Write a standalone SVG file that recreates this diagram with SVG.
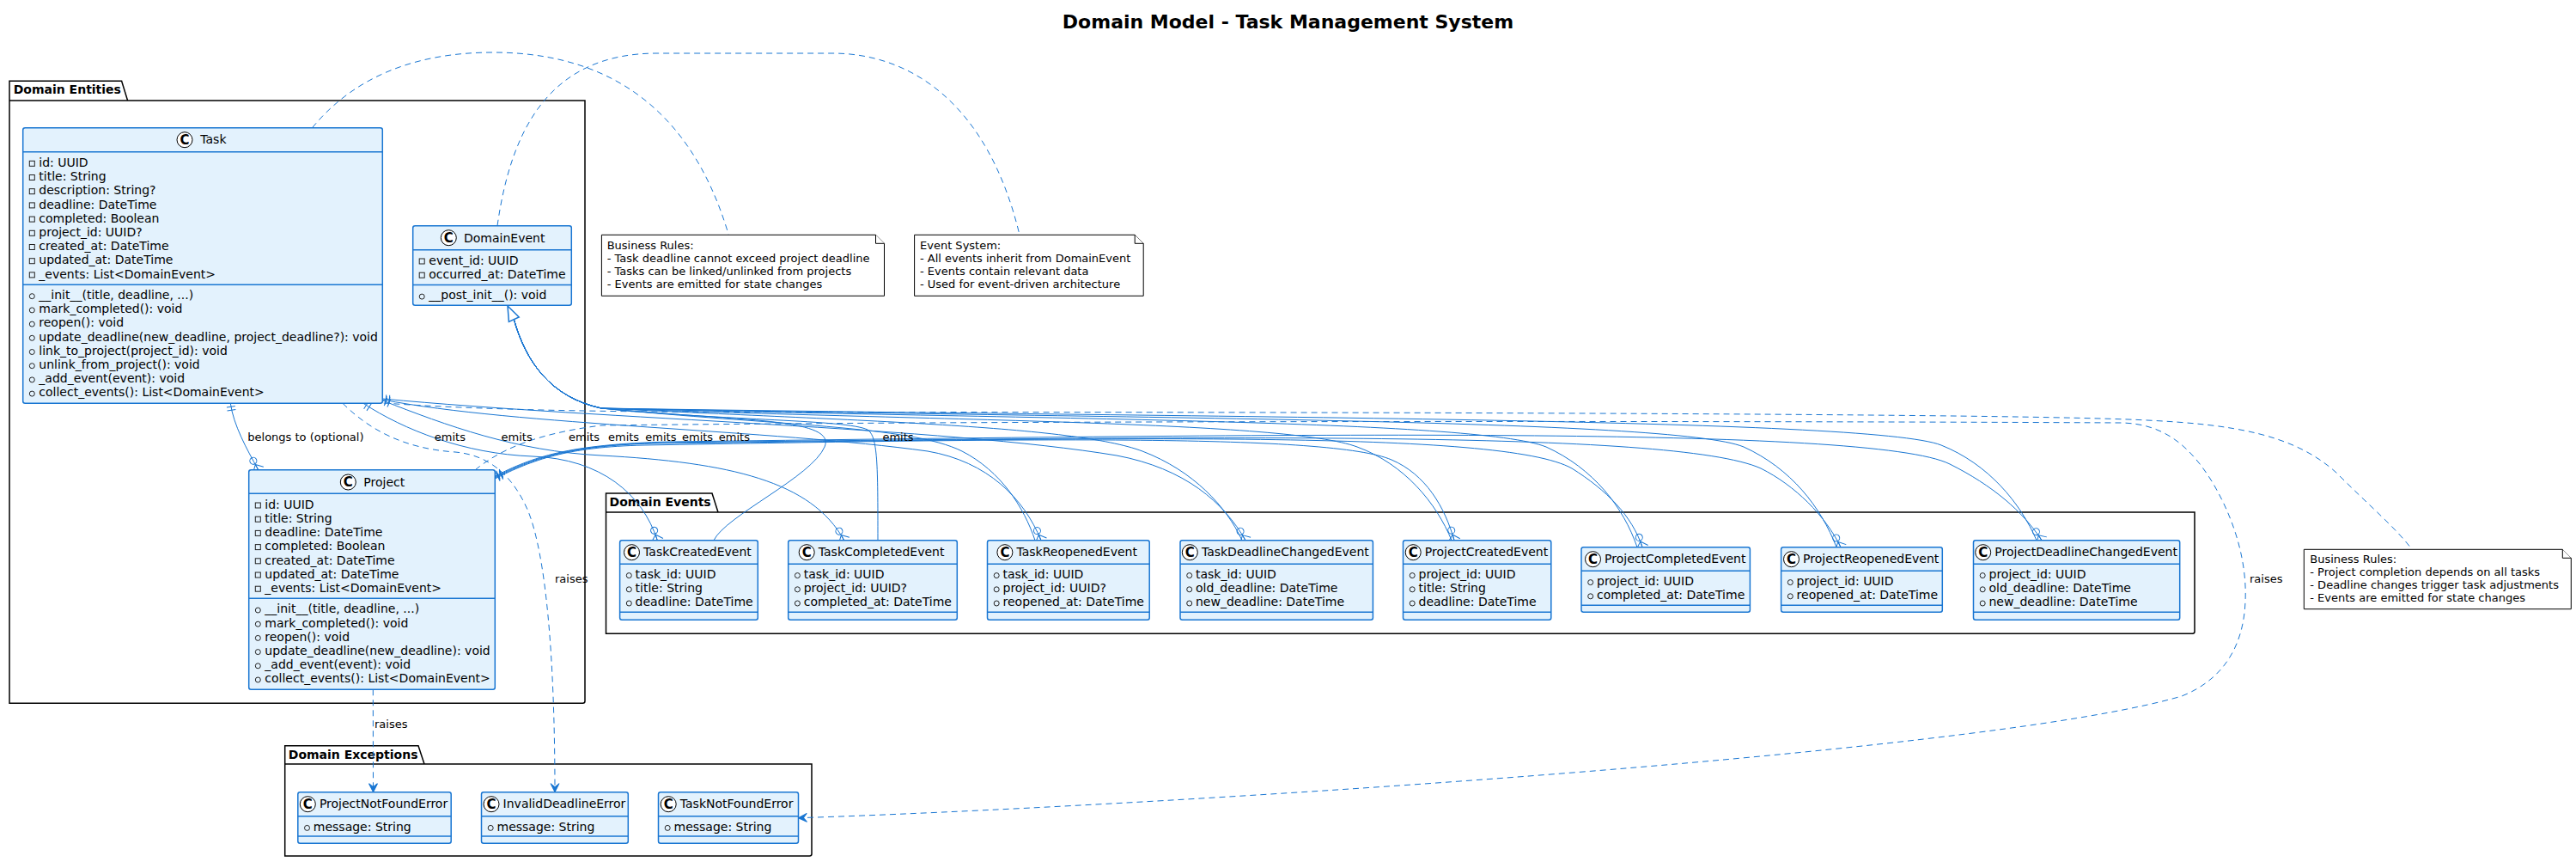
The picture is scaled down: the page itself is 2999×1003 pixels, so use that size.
<svg xmlns="http://www.w3.org/2000/svg" width="2999" height="1003" viewBox="0 0 2999 1003">
<defs>
<style>
text{font-family:"DejaVu Sans","Liberation Sans",sans-serif;fill:#000}
.cls{fill:#E3F2FD;stroke:#1976D2;stroke-width:1.5}
.sep{stroke:#1976D2;stroke-width:1.5;fill:none}
.nm{font-size:14px}
.mb{font-size:14px}
.ci{fill:#FFFFFF;stroke:#000;stroke-width:1}
.cl{font-size:15px;font-weight:bold;text-anchor:middle}
.pv{fill:none;stroke:#222;stroke-width:1}
.pkg{fill:none;stroke:#000;stroke-width:1.5}
.pkt{font-size:14px;font-weight:bold}
.note{fill:#FFFFFF;stroke:#000;stroke-width:1}
.nt{font-size:13px}
.ln{fill:none;stroke:#1976D2;stroke-width:1}
.dl{fill:none;stroke:#1976D2;stroke-width:1;stroke-dasharray:7,5}
.lb{font-size:13px}
.title{font-size:22px;font-weight:bold;text-anchor:middle}
</style>
<marker id="one" markerUnits="userSpaceOnUse" markerWidth="20" markerHeight="20" viewBox="-10 -10 20 20" refX="0" refY="0" orient="auto">
<path d="M4,-5 L4,5 M8,-5 L8,5" stroke="#1976D2" stroke-width="1" fill="none"/>
</marker>
<marker id="many" markerUnits="userSpaceOnUse" markerWidth="30" markerHeight="20" viewBox="-25 -10 30 20" refX="0" refY="0" orient="auto">
<circle cx="-12" cy="0" r="4" fill="none" stroke="#1976D2" stroke-width="1"/>
<path d="M-7,0 L0,-7 M-7,0 L0,0 M-7,0 L0,7" stroke="#1976D2" stroke-width="1" fill="none"/>
</marker>
<marker id="arr" markerUnits="userSpaceOnUse" markerWidth="20" markerHeight="20" viewBox="-15 -10 20 20" refX="0" refY="0" orient="auto">
<path d="M0,0 L-10,-5 L-6,0 L-10,5 Z" fill="#1976D2" stroke="#1976D2" stroke-width="1"/>
</marker>
</defs>
<rect x="0" y="0" width="2999" height="1003" fill="#FFFFFF"/>

<text class="title" x="1499.5" y="33">Domain Model - Task Management System</text>

<g id="pkg-entities">
<path class="pkg" d="M11,94.3 L141.6,94.3 L148.6,117 L681,117 L681,815.8 Q681,818.3 678.5,818.3 L11,818.3 Z M11,117 L148.6,117"/>
<text class="pkt" x="15.7" y="108.5">Domain Entities</text>
</g>
<g id="pkg-events">
<path class="pkg" d="M705.5,574 L829,574 L836,596 L2555,596 L2555,734.8 Q2555,737.3 2552.5,737.3 L705.5,737.3 Z M705.5,596 L836,596"/>
<text class="pkt" x="709.6" y="588.5">Domain Events</text>
</g>
<g id="pkg-exceptions">
<path class="pkg" d="M331.7,867.7 L487,867.7 L494,889 L945,889 L945,993.5 Q945,996 942.5,996 L331.7,996 Z M331.7,889 L494,889"/>
<text class="pkt" x="335.8" y="882.5">Domain Exceptions</text>
</g>

<g id="connectors">
<!-- notes -->
<path class="dl" d="M363.5,148.7 C420,80 500,61 574,61 C690,61 800,110 848.3,273.3"/>
<path class="dl" d="M579,262.7 C595,150 640,62 765,62 L969,62 C1060,62 1150,120 1187,273.3"/>
<path class="dl" d="M446.7,469 C560,477 700,479.5 900,479.5 C1600,479.5 2350,481 2500,489 C2600,494 2670,505 2720,550 C2760,590 2790,615 2808,639.3"/>
<!-- belongs to -->
<path class="ln" d="M268.3,469.3 C272,495 287,522 300.7,546.7" marker-start="url(#one)" marker-end="url(#many)"/>
<!-- task emits -->
<path class="ln" d="M423,469.3 C470,500 540,528 620,531 C700,534 748,575 765.3,628.7" marker-start="url(#one)" marker-end="url(#many)"/>
<path class="ln" d="M445.3,466 C520,495 600,525 700,530 C850,538 945,560 982.7,628.7" marker-start="url(#one)" marker-end="url(#many)"/>
<path class="ln" d="M445.3,465 C600,495 900,500 1080,525 C1150,537 1192,580 1212,628.7" marker-start="url(#one)" marker-end="url(#many)"/>
<path class="ln" d="M445.3,464 C700,488 1100,497 1300,530 C1380,545 1425,585 1450,628.7" marker-start="url(#one)" marker-end="url(#many)"/>
<!-- project emits -->
<path class="ln" d="M576.3,557 C620,535 660,520 750,518 C1200,510 1550,505 1620,535 C1660,552 1682,590 1693,628.7" marker-start="url(#one)" marker-end="url(#many)"/>
<path class="ln" d="M576.3,556 C620,534 660,519 760,516 C1300,510 1750,500 1830,545 C1870,570 1900,600 1912,636.7" marker-start="url(#one)" marker-end="url(#many)"/>
<path class="ln" d="M576.3,555 C620,533 660,518 770,515 C1400,508 1950,500 2050,545 C2090,565 2125,600 2143,636.7" marker-start="url(#one)" marker-end="url(#many)"/>
<path class="ln" d="M576.3,554 C620,532 660,517 780,514 C1500,505 2180,495 2270,540 C2320,565 2355,595 2377,628.7" marker-start="url(#one)" marker-end="url(#many)"/>
<!-- inheritance -->
<path class="ln" d="M598.3,371.7 C612,420 640,462 700,475 C850,490 975,485 960,520 C945,555 845,600 831,628.7"/>
<path class="ln" d="M598.3,371.7 C612,420 640,462 700,475 C850,490 985,488 1010,500 C1022,508 1022,540 1022,628.7"/>
<path class="ln" d="M598.3,371.7 C612,420 640,462 700,475 C900,495 1060,495 1120,525 C1165,548 1192,590 1205,628.7"/>
<path class="ln" d="M598.3,371.7 C612,420 640,462 700,475 C1000,490 1250,495 1330,525 C1390,548 1428,590 1446,628.7"/>
<path class="ln" d="M598.3,371.7 C612,420 640,462 700,475 C1100,490 1500,490 1580,520 C1635,540 1672,585 1690,628.7"/>
<path class="ln" d="M598.3,371.7 C612,420 640,462 700,475 C1200,488 1720,488 1800,520 C1855,545 1890,590 1906,636.7"/>
<path class="ln" d="M598.3,371.7 C612,420 640,462 700,475 C1300,487 1950,487 2030,520 C2085,545 2120,590 2138,636.7"/>
<path class="ln" d="M598.3,371.7 C612,420 640,462 700,475 C1400,486 2180,486 2260,518 C2315,540 2352,585 2371,628.7"/>
<polygon points="591,356 604.2,369 592.4,374.4" fill="#FFFFFF" stroke="#1976D2" stroke-width="1.5"/>
<!-- raises -->
<path class="dl" d="M434.3,802.3 L434.5,921.7" marker-end="url(#arr)"/>
<path class="dl" d="M399,469.3 C430,500 470,522 530,526 C575,530 600,560 615,595 C635,645 646,760 646,921.7" marker-end="url(#arr)"/>
<path class="dl" d="M553.3,546.7 C580,525 620,505 700,495 C1200,489 2100,490 2470,492 C2520,493 2550,520 2575,560 C2605,610 2616,660 2614,700 C2612,750 2590,790 2540,810 C2300,880 1300,940 929.4,951.7" marker-end="url(#arr)"/>
<!-- labels -->
<text class="lb" x="288.3" y="512.8">belongs to (optional)</text>
<text class="lb" x="505.8" y="512.8">emits</text>
<text class="lb" x="583.6" y="512.8">emits</text>
<text class="lb" x="662" y="512.8">emits</text>
<text class="lb" x="708" y="512.8">emits</text>
<text class="lb" x="751.3" y="512.8">emits</text>
<text class="lb" x="794" y="512.8">emits</text>
<text class="lb" x="836.8" y="512.8">emits</text>
<text class="lb" x="1027.4" y="512.8">emits</text>
<text class="lb" x="436" y="847">raises</text>
<text class="lb" x="646" y="678.3">raises</text>
<text class="lb" x="2619" y="678.3">raises</text>
</g>

<g id="Task">
<rect class="cls" x="26.7" y="148.7" width="418.6" height="320.6" rx="2.5"/>
<line class="sep" x1="26.7" y1="176.7" x2="445.3" y2="176.7"/>
<line class="sep" x1="26.7" y1="331.3" x2="445.3" y2="331.3"/>
<circle class="ci" cx="215" cy="162.7" r="9"/><text class="cl" x="215" y="168">C</text>
<text class="nm" x="233.3" y="167.3">Task</text>
<rect class="pv" x="34.3" y="187.3" width="6" height="6"/><text class="mb" x="45.3" y="194">id: UUID</text>
<rect class="pv" x="34.3" y="203.5" width="6" height="6"/><text class="mb" x="45.3" y="210.2">title: String</text>
<rect class="pv" x="34.3" y="219.7" width="6" height="6"/><text class="mb" x="45.3" y="226.4">description: String?</text>
<rect class="pv" x="34.3" y="235.9" width="6" height="6"/><text class="mb" x="45.3" y="242.6">deadline: DateTime</text>
<rect class="pv" x="34.3" y="252.1" width="6" height="6"/><text class="mb" x="45.3" y="258.8">completed: Boolean</text>
<rect class="pv" x="34.3" y="268.3" width="6" height="6"/><text class="mb" x="45.3" y="275">project_id: UUID?</text>
<rect class="pv" x="34.3" y="284.5" width="6" height="6"/><text class="mb" x="45.3" y="291.2">created_at: DateTime</text>
<rect class="pv" x="34.3" y="300.7" width="6" height="6"/><text class="mb" x="45.3" y="307.4">updated_at: DateTime</text>
<rect class="pv" x="34.3" y="316.9" width="6" height="6"/><text class="mb" x="45.3" y="323.6">_events: List&lt;DomainEvent&gt;</text>
<circle class="pv" cx="37.3" cy="344.7" r="3"/><text class="mb" x="45.3" y="348">__init__(title, deadline, ...)</text>
<circle class="pv" cx="37.3" cy="360.9" r="3"/><text class="mb" x="45.3" y="364.2">mark_completed(): void</text>
<circle class="pv" cx="37.3" cy="377.1" r="3"/><text class="mb" x="45.3" y="380.4">reopen(): void</text>
<circle class="pv" cx="37.3" cy="393.3" r="3"/><text class="mb" x="45.3" y="396.6">update_deadline(new_deadline, project_deadline?): void</text>
<circle class="pv" cx="37.3" cy="409.5" r="3"/><text class="mb" x="45.3" y="412.8">link_to_project(project_id): void</text>
<circle class="pv" cx="37.3" cy="425.7" r="3"/><text class="mb" x="45.3" y="429">unlink_from_project(): void</text>
<circle class="pv" cx="37.3" cy="441.9" r="3"/><text class="mb" x="45.3" y="445.2">_add_event(event): void</text>
<circle class="pv" cx="37.3" cy="458.1" r="3"/><text class="mb" x="45.3" y="461.4">collect_events(): List&lt;DomainEvent&gt;</text>
</g>

<g id="DomainEvent">
<rect class="cls" x="480.7" y="262.7" width="184.6" height="92.6" rx="2.5"/>
<line class="sep" x1="480.7" y1="290.7" x2="665.3" y2="290.7"/>
<line class="sep" x1="480.7" y1="331.5" x2="665.3" y2="331.5"/>
<circle class="ci" cx="522.3" cy="276.7" r="9"/><text class="cl" x="522.3" y="282">C</text>
<text class="nm" x="540" y="281.7">DomainEvent</text>
<rect class="pv" x="488.2" y="301" width="6" height="6"/><text class="mb" x="499.3" y="307.7">event_id: UUID</text>
<rect class="pv" x="488.2" y="317.2" width="6" height="6"/><text class="mb" x="499.3" y="323.9">occurred_at: DateTime</text>
<circle class="pv" cx="491.2" cy="345.1" r="3"/><text class="mb" x="499.3" y="348.4">__post_init__(): void</text>
</g>

<g id="Project">
<rect class="cls" x="289.7" y="546.7" width="286.6" height="255.6" rx="2.5"/>
<line class="sep" x1="289.7" y1="574.3" x2="576.3" y2="574.3"/>
<line class="sep" x1="289.7" y1="696.3" x2="576.3" y2="696.3"/>
<circle class="ci" cx="405.3" cy="561" r="9"/><text class="cl" x="405.3" y="566.3">C</text>
<text class="nm" x="423.3" y="566">Project</text>
<rect class="pv" x="297.3" y="585" width="6" height="6"/><text class="mb" x="308.3" y="591.7">id: UUID</text>
<rect class="pv" x="297.3" y="601.2" width="6" height="6"/><text class="mb" x="308.3" y="607.9">title: String</text>
<rect class="pv" x="297.3" y="617.4" width="6" height="6"/><text class="mb" x="308.3" y="624.1">deadline: DateTime</text>
<rect class="pv" x="297.3" y="633.6" width="6" height="6"/><text class="mb" x="308.3" y="640.3">completed: Boolean</text>
<rect class="pv" x="297.3" y="649.8" width="6" height="6"/><text class="mb" x="308.3" y="656.5">created_at: DateTime</text>
<rect class="pv" x="297.3" y="666" width="6" height="6"/><text class="mb" x="308.3" y="672.7">updated_at: DateTime</text>
<rect class="pv" x="297.3" y="682.2" width="6" height="6"/><text class="mb" x="308.3" y="688.9">_events: List&lt;DomainEvent&gt;</text>
<circle class="pv" cx="300.3" cy="710" r="3"/><text class="mb" x="308.3" y="713.3">__init__(title, deadline, ...)</text>
<circle class="pv" cx="300.3" cy="726.2" r="3"/><text class="mb" x="308.3" y="729.5">mark_completed(): void</text>
<circle class="pv" cx="300.3" cy="742.4" r="3"/><text class="mb" x="308.3" y="745.7">reopen(): void</text>
<circle class="pv" cx="300.3" cy="758.6" r="3"/><text class="mb" x="308.3" y="761.9">update_deadline(new_deadline): void</text>
<circle class="pv" cx="300.3" cy="774.8" r="3"/><text class="mb" x="308.3" y="778.1">_add_event(event): void</text>
<circle class="pv" cx="300.3" cy="791" r="3"/><text class="mb" x="308.3" y="794.3">collect_events(): List&lt;DomainEvent&gt;</text>
</g>

<g id="TaskCreatedEvent">
<rect class="cls" x="721.6" y="628.7" width="160.7" height="92.6" rx="2.5"/>
<line class="sep" x1="721.6" y1="656.3" x2="882.3" y2="656.3"/>
<line class="sep" x1="721.6" y1="712.3" x2="882.3" y2="712.3"/>
<circle class="ci" cx="735.5" cy="642.7" r="9"/><text class="cl" x="735.5" y="648">C</text>
<text class="nm" x="749.1" y="646.7">TaskCreatedEvent</text>
<circle class="pv" cx="732.3" cy="669.6" r="3"/><text class="mb" x="739.6" y="672.9">task_id: UUID</text>
<circle class="pv" cx="732.3" cy="685.8" r="3"/><text class="mb" x="739.6" y="689.1">title: String</text>
<circle class="pv" cx="732.3" cy="702" r="3"/><text class="mb" x="739.6" y="705.3">deadline: DateTime</text>
</g>

<g id="TaskCompletedEvent">
<rect class="cls" x="917.7" y="628.7" width="196.6" height="92.6" rx="2.5"/>
<line class="sep" x1="917.7" y1="656.3" x2="1114.3" y2="656.3"/>
<line class="sep" x1="917.7" y1="712.3" x2="1114.3" y2="712.3"/>
<circle class="ci" cx="939.2" cy="642.7" r="9"/><text class="cl" x="939.2" y="648">C</text>
<text class="nm" x="952.8" y="646.7">TaskCompletedEvent</text>
<circle class="pv" cx="928.4" cy="669.6" r="3"/><text class="mb" x="935.7" y="672.9">task_id: UUID</text>
<circle class="pv" cx="928.4" cy="685.8" r="3"/><text class="mb" x="935.7" y="689.1">project_id: UUID?</text>
<circle class="pv" cx="928.4" cy="702" r="3"/><text class="mb" x="935.7" y="705.3">completed_at: DateTime</text>
</g>

<g id="TaskReopenedEvent">
<rect class="cls" x="1149.5" y="628.7" width="188.7" height="92.6" rx="2.5"/>
<line class="sep" x1="1149.5" y1="656.3" x2="1338.2" y2="656.3"/>
<line class="sep" x1="1149.5" y1="712.3" x2="1338.2" y2="712.3"/>
<circle class="ci" cx="1169.9" cy="642.7" r="9"/><text class="cl" x="1169.9" y="648">C</text>
<text class="nm" x="1183.5" y="646.7">TaskReopenedEvent</text>
<circle class="pv" cx="1160.2" cy="669.6" r="3"/><text class="mb" x="1167.5" y="672.9">task_id: UUID</text>
<circle class="pv" cx="1160.2" cy="685.8" r="3"/><text class="mb" x="1167.5" y="689.1">project_id: UUID?</text>
<circle class="pv" cx="1160.2" cy="702" r="3"/><text class="mb" x="1167.5" y="705.3">reopened_at: DateTime</text>
</g>

<g id="TaskDeadlineChangedEvent">
<rect class="cls" x="1374" y="628.7" width="224.4" height="92.6" rx="2.5"/>
<line class="sep" x1="1374" y1="656.3" x2="1598.4" y2="656.3"/>
<line class="sep" x1="1374" y1="712.3" x2="1598.4" y2="712.3"/>
<circle class="ci" cx="1385.3" cy="642.7" r="9"/><text class="cl" x="1385.3" y="648">C</text>
<text class="nm" x="1398.9" y="646.7">TaskDeadlineChangedEvent</text>
<circle class="pv" cx="1384.7" cy="669.6" r="3"/><text class="mb" x="1392" y="672.9">task_id: UUID</text>
<circle class="pv" cx="1384.7" cy="685.8" r="3"/><text class="mb" x="1392" y="689.1">old_deadline: DateTime</text>
<circle class="pv" cx="1384.7" cy="702" r="3"/><text class="mb" x="1392" y="705.3">new_deadline: DateTime</text>
</g>

<g id="ProjectCreatedEvent">
<rect class="cls" x="1633.5" y="628.7" width="172.3" height="92.6" rx="2.5"/>
<line class="sep" x1="1633.5" y1="656.3" x2="1805.8" y2="656.3"/>
<line class="sep" x1="1633.5" y1="712.3" x2="1805.8" y2="712.3"/>
<circle class="ci" cx="1645.2" cy="642.7" r="9"/><text class="cl" x="1645.2" y="648">C</text>
<text class="nm" x="1658.8" y="646.7">ProjectCreatedEvent</text>
<circle class="pv" cx="1644.2" cy="669.6" r="3"/><text class="mb" x="1651.5" y="672.9">project_id: UUID</text>
<circle class="pv" cx="1644.2" cy="685.8" r="3"/><text class="mb" x="1651.5" y="689.1">title: String</text>
<circle class="pv" cx="1644.2" cy="702" r="3"/><text class="mb" x="1651.5" y="705.3">deadline: DateTime</text>
</g>

<g id="ProjectCompletedEvent">
<rect class="cls" x="1841" y="636.7" width="196.4" height="75.6" rx="2.5"/>
<line class="sep" x1="1841" y1="664.3" x2="2037.4" y2="664.3"/>
<line class="sep" x1="1841" y1="704.3" x2="2037.4" y2="704.3"/>
<circle class="ci" cx="1854.5" cy="650.7" r="9"/><text class="cl" x="1854.5" y="656">C</text>
<text class="nm" x="1868.1" y="654.7">ProjectCompletedEvent</text>
<circle class="pv" cx="1851.7" cy="677.6" r="3"/><text class="mb" x="1859" y="680.9">project_id: UUID</text>
<circle class="pv" cx="1851.7" cy="693.8" r="3"/><text class="mb" x="1859" y="697.1">completed_at: DateTime</text>
</g>

<g id="ProjectReopenedEvent">
<rect class="cls" x="2073.6" y="636.7" width="187.7" height="75.6" rx="2.5"/>
<line class="sep" x1="2073.6" y1="664.3" x2="2261.3" y2="664.3"/>
<line class="sep" x1="2073.6" y1="704.3" x2="2261.3" y2="704.3"/>
<circle class="ci" cx="2085.5" cy="650.7" r="9"/><text class="cl" x="2085.5" y="656">C</text>
<text class="nm" x="2099.1" y="654.7">ProjectReopenedEvent</text>
<circle class="pv" cx="2084.3" cy="677.6" r="3"/><text class="mb" x="2091.6" y="680.9">project_id: UUID</text>
<circle class="pv" cx="2084.3" cy="693.8" r="3"/><text class="mb" x="2091.6" y="697.1">reopened_at: DateTime</text>
</g>

<g id="ProjectDeadlineChangedEvent">
<rect class="cls" x="2297.5" y="628.7" width="240.2" height="92.6" rx="2.5"/>
<line class="sep" x1="2297.5" y1="656.3" x2="2537.7" y2="656.3"/>
<line class="sep" x1="2297.5" y1="712.3" x2="2537.7" y2="712.3"/>
<circle class="ci" cx="2308.7" cy="642.7" r="9"/><text class="cl" x="2308.7" y="648">C</text>
<text class="nm" x="2322.3" y="646.7">ProjectDeadlineChangedEvent</text>
<circle class="pv" cx="2308.2" cy="669.6" r="3"/><text class="mb" x="2315.5" y="672.9">project_id: UUID</text>
<circle class="pv" cx="2308.2" cy="685.8" r="3"/><text class="mb" x="2315.5" y="689.1">old_deadline: DateTime</text>
<circle class="pv" cx="2308.2" cy="702" r="3"/><text class="mb" x="2315.5" y="705.3">new_deadline: DateTime</text>
</g>

<g id="ProjectNotFoundError">
<rect class="cls" x="346.8" y="921.7" width="178.4" height="59.6" rx="2.5"/>
<line class="sep" x1="346.8" y1="949.7" x2="525.2" y2="949.7"/>
<line class="sep" x1="346.8" y1="973" x2="525.2" y2="973"/>
<circle class="ci" cx="358.3" cy="935.7" r="9"/><text class="cl" x="358.3" y="941">C</text>
<text class="nm" x="371.9" y="939.7">ProjectNotFoundError</text>
<circle class="pv" cx="357.5" cy="963.4" r="3"/><text class="mb" x="364.8" y="966.7">message: String</text>
</g>

<g id="InvalidDeadlineError">
<rect class="cls" x="560.5" y="921.7" width="170.8" height="59.6" rx="2.5"/>
<line class="sep" x1="560.5" y1="949.7" x2="731.3" y2="949.7"/>
<line class="sep" x1="560.5" y1="973" x2="731.3" y2="973"/>
<circle class="ci" cx="572" cy="935.7" r="9"/><text class="cl" x="572" y="941">C</text>
<text class="nm" x="585.6" y="939.7">InvalidDeadlineError</text>
<circle class="pv" cx="571.2" cy="963.4" r="3"/><text class="mb" x="578.5" y="966.7">message: String</text>
</g>

<g id="TaskNotFoundError">
<rect class="cls" x="766.5" y="921.7" width="163" height="59.6" rx="2.5"/>
<line class="sep" x1="766.5" y1="949.7" x2="929.5" y2="949.7"/>
<line class="sep" x1="766.5" y1="973" x2="929.5" y2="973"/>
<circle class="ci" cx="778.2" cy="935.7" r="9"/><text class="cl" x="778.2" y="941">C</text>
<text class="nm" x="791.8" y="939.7">TaskNotFoundError</text>
<circle class="pv" cx="777.2" cy="963.4" r="3"/><text class="mb" x="784.5" y="966.7">message: String</text>
</g>

<g id="note-business-rules-task">
<path class="note" d="M700.4,273.3 L1019.5,273.3 L1029.5,283.3 L1029.5,344.3 L700.4,344.3 Z"/>
<path class="note" d="M1019.5,273.3 L1019.5,283.3 L1029.5,283.3"/>
<text class="nt" x="706.7" y="290">Business Rules:</text>
<text class="nt" x="706.7" y="305.2">- Task deadline cannot exceed project deadline</text>
<text class="nt" x="706.7" y="320.3">- Tasks can be linked/unlinked from projects</text>
<text class="nt" x="706.7" y="335.4">- Events are emitted for state changes</text>
</g>

<g id="note-event-system">
<path class="note" d="M1064.6,273.3 L1321.2,273.3 L1331.2,283.3 L1331.2,344.3 L1064.6,344.3 Z"/>
<path class="note" d="M1321.2,273.3 L1321.2,283.3 L1331.2,283.3"/>
<text class="nt" x="1071" y="290">Event System:</text>
<text class="nt" x="1071" y="305.2">- All events inherit from DomainEvent</text>
<text class="nt" x="1071" y="320.3">- Events contain relevant data</text>
<text class="nt" x="1071" y="335.4">- Used for event-driven architecture</text>
</g>

<g id="note-business-rules-project">
<path class="note" d="M2682.3,639.3 L2983.3,639.3 L2993.3,649.3 L2993.3,708.7 L2682.3,708.7 Z"/>
<path class="note" d="M2983.3,639.3 L2983.3,649.3 L2993.3,649.3"/>
<text class="nt" x="2689.3" y="655">Business Rules:</text>
<text class="nt" x="2689.3" y="670">- Project completion depends on all tasks</text>
<text class="nt" x="2689.3" y="685">- Deadline changes trigger task adjustments</text>
<text class="nt" x="2689.3" y="700">- Events are emitted for state changes</text>
</g>
</svg>
